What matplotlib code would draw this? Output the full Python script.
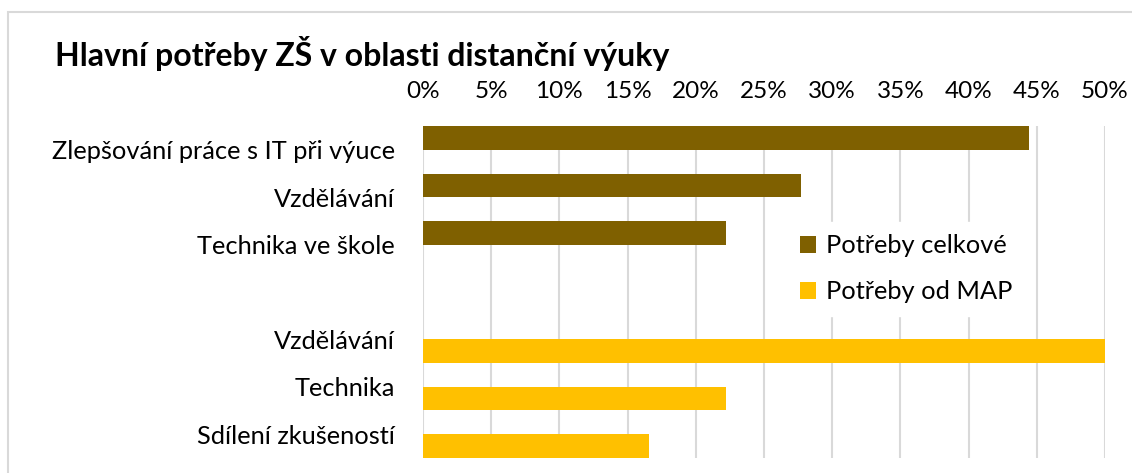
import numpy as np
import matplotlib
matplotlib.use('Agg')
import matplotlib.pyplot as plt
from matplotlib.ticker import PercentFormatter
from matplotlib.patches import Rectangle

# data (percent)
kategorie = ['Zlepšování práce s IT při výuce', 'Vzdělávání', 'Technika ve škole', '',
             'Vzdělávání', 'Technika', 'Sdílení zkušeností']
potreby_celkove = [44.4, 27.7, 22.2, np.nan, np.nan, np.nan, np.nan]
potreby_map = [np.nan, np.nan, np.nan, np.nan, 50.0, 22.2, 16.6]
x_ticks = [0, 5, 10, 15, 20, 25, 30, 35, 40, 45, 50]

plt.rcParams['font.family'] = ['Lato', 'DejaVu Sans']

fig = plt.figure(figsize=(11.32, 4.73), dpi=100)
ax = fig.add_axes([423 / 1132, 1 - 458 / 473, 682 / 1132, 332 / 473])

y = np.arange(len(kategorie))
h = 0.49
ax.barh(y - h / 2, potreby_celkove, height=h, color='#7F6000', label='Potřeby celkové', zorder=3)
ax.barh(y + h / 2, potreby_map, height=h, color='#FFC000', label='Potřeby od MAP', zorder=3)

ax.set_ylim(len(kategorie) - 0.5, -0.5)
ax.set_yticks(y)
ax.set_yticklabels(kategorie, fontsize=18.3)
ax.set_xlim(0, 50)
ax.set_xticks(x_ticks)
ax.xaxis.set_major_formatter(PercentFormatter(xmax=100, decimals=0))
ax.xaxis.tick_top()
ax.tick_params(axis='x', labelsize=17.5, length=0, pad=17)
ax.tick_params(axis='y', length=0, pad=20)
ax.grid(axis='x', color='#D9D9D9', linewidth=1.5, zorder=0)
for s in ax.spines.values():
    s.set_visible(False)

leg = ax.legend(loc='upper left', bbox_to_anchor=(0.515, 0.75), frameon=True, fontsize=18.3,
                handlelength=0.65, handleheight=0.65, handletextpad=0.4, labelspacing=0.9,
                borderpad=0.5, fancybox=False)
leg.get_frame().set_edgecolor('white')
leg.get_frame().set_facecolor('white')
leg.get_frame().set_alpha(1)

fig.text(55 / 1132, 1 - 53 / 473, 'Hlavní potřeby ZŠ v oblasti distanční výuky',
         fontsize=23, fontweight='bold', va='center', ha='left')

# chart border (cropped on right and bottom)
fig.patches.append(Rectangle((8 / 1132, -0.2), 1.2, 1.2 - 12 / 473, transform=fig.transFigure,
                             fill=False, edgecolor='#D9D9D9', linewidth=1.5))

fig.savefig('out.png', dpi=100)
